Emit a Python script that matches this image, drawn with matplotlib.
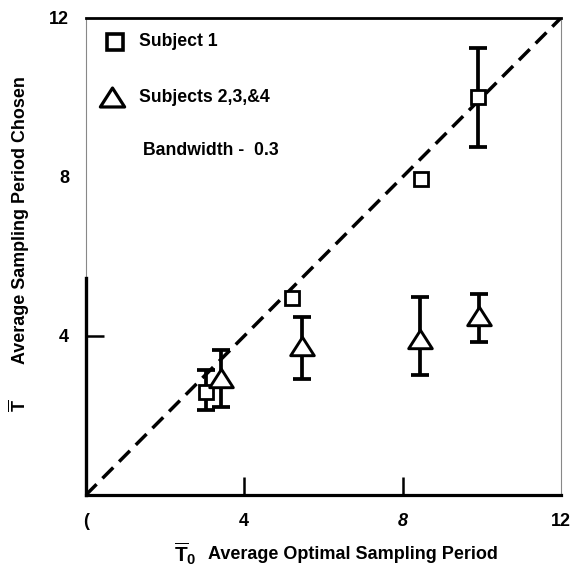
import numpy as np
import matplotlib
matplotlib.use("Agg")
import matplotlib.pyplot as plt
from matplotlib.path import Path

plt.rcParams['font.family'] = ['Liberation Sans', 'DejaVu Sans']
plt.rcParams['font.weight'] = 'bold'
plt.rcParams['mathtext.fontset'] = 'custom'
plt.rcParams['mathtext.rm'] = 'Liberation Sans:bold'
plt.rcParams['mathtext.it'] = 'Liberation Sans:bold'
plt.rcParams['mathtext.bf'] = 'Liberation Sans:bold'

# subject 1 (squares)
s1_x = [3.03, 5.2, 8.45, 9.9]
s1_y = [2.6, 4.95, 7.95, 10.0]
s1_lo = [2.13, np.nan, np.nan, 8.75]
s1_hi = [3.15, np.nan, np.nan, 11.25]

# subjects 2,3,&4 (triangles)
s2_x = [3.42, 5.45, 8.43, 9.92]
s2_y = [2.95, 3.75, 3.92, 4.5]
s2_lo = [2.22, 2.92, 3.02, 3.85]
s2_hi = [3.65, 4.47, 4.97, 5.05]

ticks = [0, 4, 8, 12]
xtick_labels = ['(', '4', '8', '12']
ytick_labels = ['', '4', '8', '12']

tri = Path([(0, 0.78), (-1, -0.78), (1, -0.78), (0, 0.78)],
           [Path.MOVETO, Path.LINETO, Path.LINETO, Path.CLOSEPOLY])

fig = plt.figure(figsize=(5.72, 5.73), dpi=100)
ax = fig.add_axes([0.150, 0.136, 0.831, 0.833])
ax.set_xlim(0, 12)
ax.set_ylim(0, 12)

# dashed identity line
ax.plot([0, 12], [0, 12], color='black', lw=2.5, dashes=(4.4, 2.4), zorder=1)

def err(y, lo, hi):
    y = np.array(y); lo = np.array(lo); hi = np.array(hi)
    return np.vstack([y - lo, hi - y])

ax.errorbar(s1_x, s1_y, yerr=err(s1_y, s1_lo, s1_hi), fmt='none', ecolor='black',
            elinewidth=2.7, capsize=6.5, capthick=2.7, zorder=2)
ax.errorbar(s2_x, s2_y, yerr=err(s2_y, s2_lo, s2_hi), fmt='none', ecolor='black',
            elinewidth=2.7, capsize=6.5, capthick=2.7, zorder=2)
ax.plot(s1_x, s1_y, 's', ms=10, mfc='white', mec='black', mew=2.0, zorder=3)
ax.plot(s2_x, s2_y, marker=tri, ls='none', ms=17, mfc='white', mec='black', mew=2.1, zorder=3)

# legend drawn by hand
ax.plot([0.061], [0.950], 's', ms=11, mfc='white', mec='black', mew=2.6,
        transform=ax.transAxes, clip_on=False)
ax.plot([0.055], [0.835], marker=tri, ls='none', ms=17.5, mfc='white', mec='black', mew=2.3,
        transform=ax.transAxes, clip_on=False)
ax.text(0.112, 0.950, 'Subject 1', transform=ax.transAxes, fontsize=12.7,
        fontweight='bold', va='center', ha='left')
ax.text(0.112, 0.833, 'Subjects 2,3,&4', transform=ax.transAxes, fontsize=12.7,
        fontweight='bold', va='center', ha='left')
ax.text(0.120, 0.722, 'Bandwidth -  0.3', transform=ax.transAxes, fontsize=12.7,
        fontweight='bold', va='center', ha='left')

# spines
ax.spines['top'].set_linewidth(2.0)
ax.spines['bottom'].set_linewidth(2.3)
ax.spines['left'].set_linewidth(0.8)
ax.spines['left'].set_color('#888888')
ax.spines['right'].set_linewidth(0.8)
ax.spines['right'].set_color('#888888')
ax.axvline(0, ymin=0, ymax=5.45 / 12, color='black', lw=2.4, zorder=4, clip_on=False)

ax.set_xticks(ticks)
ax.set_xticklabels(xtick_labels, fontsize=13, fontweight='bold')
ax.set_yticks(ticks)
ax.set_yticklabels(ytick_labels, fontsize=13, fontweight='bold')
ax.get_xticklabels()[2].set_style('italic')
ax.tick_params(axis='both', direction='in', length=13, width=1.8, color='black')
ax.tick_params(axis='x', pad=13)
ax.tick_params(axis='y', pad=12)
for i in [0, 3]:
    ax.xaxis.get_major_ticks()[i].tick1line.set_visible(False)
for i in [0, 2, 3]:
    ax.yaxis.get_major_ticks()[i].tick1line.set_visible(False)

# axis labels
fig.text(0.036, 0.616, 'Average Sampling Period Chosen', rotation=90, fontsize=12.9,
         fontweight='bold', ha='center', va='center')
fig.text(0.033, 0.293, r'$\overline{T}$', rotation=90, fontsize=13,
         ha='center', va='center')
fig.text(0.305, 0.033, r'$\overline{T}_0$', fontsize=15, ha='left', va='center')
fig.text(0.363, 0.033, 'Average Optimal Sampling Period', fontsize=13,
         fontweight='bold', ha='left', va='center')

fig.savefig('out.png', dpi=100)
